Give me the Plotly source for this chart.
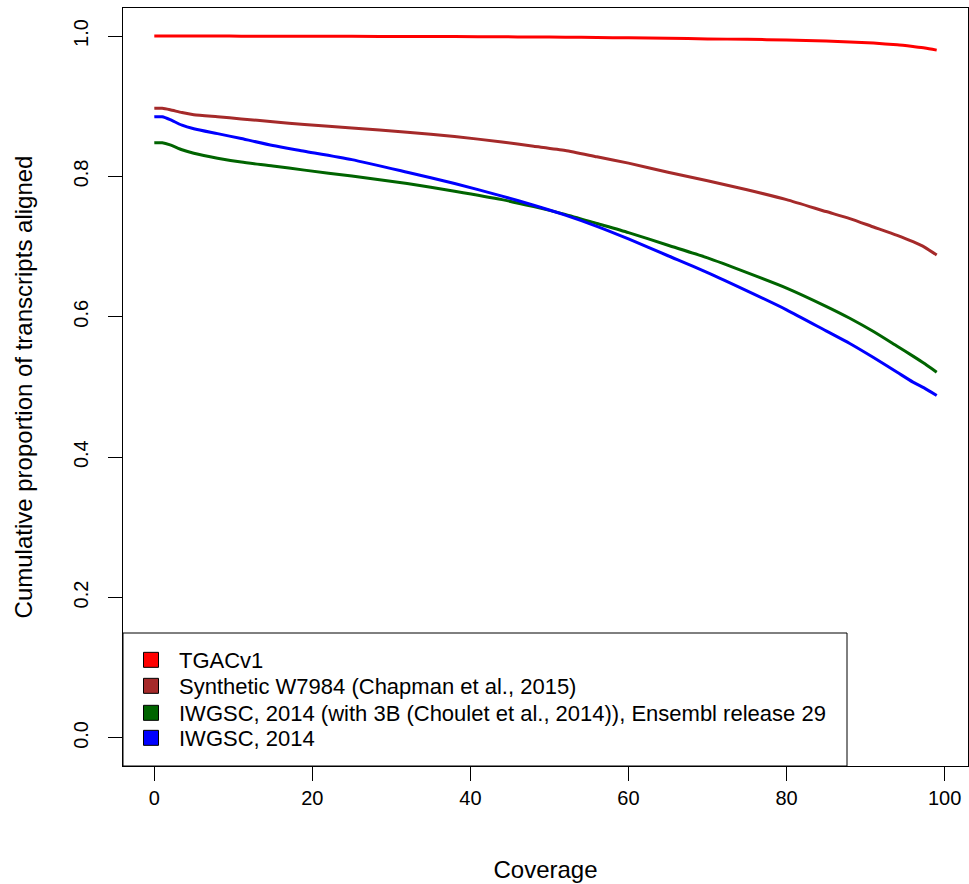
import plotly.graph_objects as go

coverage = [0, 1, 2, 3.5, 5, 8, 11, 15, 19, 25, 32, 38, 44, 48, 52, 56, 60, 65, 70, 75, 80, 85, 88, 91, 94, 96, 97.5, 99]

tgac = [1.0, 1.0, 1.0, 1.0, 1.0, 1.0, 0.9999, 0.9998, 0.9997, 0.9996, 0.9994, 0.9993, 0.9990, 0.9987, 0.9984, 0.9980,
        0.9975, 0.9968, 0.9960, 0.9953, 0.9945, 0.9930, 0.9915, 0.9900, 0.9875, 0.9850, 0.9830, 0.9800]
synthetic = [0.897, 0.897, 0.895, 0.891, 0.888, 0.885, 0.882, 0.878, 0.874, 0.869, 0.863, 0.857, 0.849, 0.843, 0.837,
             0.828, 0.819, 0.806, 0.794, 0.781, 0.767, 0.750, 0.740, 0.728, 0.716, 0.707, 0.699, 0.688]
iwgsc_3b = [0.848, 0.848, 0.845, 0.838, 0.833, 0.826, 0.8205, 0.815, 0.809, 0.8005, 0.790, 0.779, 0.767, 0.757, 0.746,
            0.733, 0.720, 0.702, 0.684, 0.663, 0.641, 0.615, 0.598, 0.579, 0.558, 0.544, 0.533, 0.521]
iwgsc = [0.885, 0.885, 0.881, 0.873, 0.868, 0.861, 0.854, 0.844, 0.836, 0.824, 0.806, 0.790, 0.772, 0.759, 0.745,
         0.729, 0.711, 0.687, 0.663, 0.637, 0.610, 0.580, 0.562, 0.542, 0.521, 0.507, 0.498, 0.488]

names = ["TGACv1", "Synthetic W7984 (Chapman et al., 2015)",
         "IWGSC, 2014 (with 3B (Choulet et al., 2014)), Ensembl release 29", "IWGSC, 2014"]
colors = ["#FF0000", "#A52A2A", "#006400", "#0000FF"]
series = [tgac, synthetic, iwgsc_3b, iwgsc]

x_ticks = [0, 20, 40, 60, 80, 100]
y_ticks = [0.0, 0.2, 0.4, 0.6, 0.8, 1.0]

FONT = "Liberation Sans, Arial, Helvetica, sans-serif"

fig = go.Figure()
for vals, col in zip(series, colors):
    fig.add_trace(go.Scatter(x=coverage, y=vals, mode="lines",
                             line=dict(color=col, width=3, shape="spline", smoothing=0.6),
                             showlegend=False, hoverinfo="skip"))

legend_ids = ["legend", "legend2", "legend3", "legend4"]
legend_rows = [0.1398, 0.1055, 0.0699, 0.0369]
for name, col, lid in zip(names, colors, legend_ids):
    fig.add_trace(go.Scatter(x=[None], y=[None], mode="markers", name=name, legend=lid,
                             marker=dict(symbol="square", size=15, color=col,
                                         line=dict(color="black", width=1))))

legend_common = dict(x=0.0, xanchor="left", yanchor="middle", bgcolor="rgba(0,0,0,0)", borderwidth=0,
                     font=dict(size=22, family=FONT), itemwidth=46)
legend_layout = {lid: dict(y=yr, **legend_common) for lid, yr in zip(legend_ids, legend_rows)}

fig.update_layout(
    width=969, height=884,
    margin=dict(l=123, r=1, t=8, b=118),
    paper_bgcolor="white", plot_bgcolor="white",
    font=dict(family=FONT, size=20, color="black"),
    showlegend=True,
    xaxis=dict(range=[-3.96, 102.96], tickvals=x_ticks, ticks="outside", ticklen=14, tickwidth=1,
               tickcolor="black", showline=True, linecolor="black", linewidth=1, mirror=True,
               showgrid=False, zeroline=False, title=dict(text="Coverage", standoff=53),
               tickfont=dict(size=20)),
    yaxis=dict(range=[-0.04, 1.04], tickvals=y_ticks, tickformat=".1f", ticks="outside", ticklen=14,
               tickwidth=1, tickcolor="black", showline=True, linecolor="black", linewidth=1, mirror=True,
               showgrid=False, zeroline=False, tickangle=-90, ticklabelstandoff=12,
               title=dict(text="Cumulative proportion of transcripts aligned", standoff=30),
               tickfont=dict(size=20)),
    shapes=[dict(type="rect", xref="paper", yref="paper", x0=0, x1=724 / 845, y0=0, y1=133 / 758,
                 line=dict(color="black", width=1), fillcolor="rgba(0,0,0,0)")],
    **legend_layout,
)

fig.write_html("out.html")
